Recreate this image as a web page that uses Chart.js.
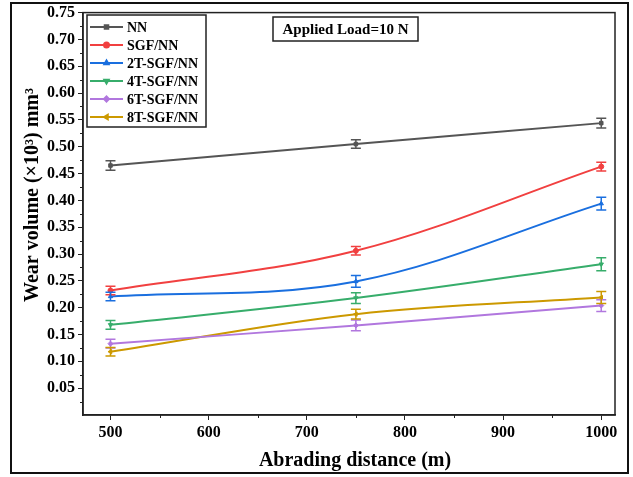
<!DOCTYPE html>
<html>
<head>
<meta charset="utf-8">
<script src="https://cdn.jsdelivr.net/npm/chart.js@4.4.1/dist/chart.umd.min.js"></script>
<style>
  body { margin: 0; background: #fff; }
  #wrap { width: 633px; height: 477px; }
</style>
</head>
<body>
<div id="wrap"><canvas id="chart" width="633" height="477"></canvas></div>
<script>
// Wear volume vs abrading distance
const distances = [500, 750, 1000];
const seriesNames = ['NN', 'SGF/NN', '2T-SGF/NN', '4T-SGF/NN', '6T-SGF/NN', '8T-SGF/NN'];
const nnValues = [0.465, 0.505, 0.544];
const sgfValues = [0.232, 0.306, 0.463];
const t2Values = [0.221, 0.249, 0.394];
const t4Values = [0.168, 0.218, 0.281];
const t6Values = [0.133, 0.167, 0.204];
const t8Values = [0.118, 0.188, 0.219];
const nnErr = [0.009, 0.008, 0.009];
const sgfErr = [0.008, 0.008, 0.008];
const t2Err = [0.008, 0.011, 0.012];
const t4Err = [0.008, 0.010, 0.012];
const t6Err = [0.008, 0.010, 0.011];
const t8Err = [0.008, 0.009, 0.011];
const xTicks = [500, 600, 700, 800, 900, 1000];
const yTicks = [0.05, 0.10, 0.15, 0.20, 0.25, 0.30, 0.35, 0.40, 0.45, 0.50, 0.55, 0.60, 0.65, 0.70, 0.75];

const colors = ['#555555', '#F14040', '#1A6FDF', '#37AD6B', '#B177DE', '#CC9900'];
const shapes = ['rect', 'circle', 'triangle', 'triangle', 'rectRot', 'triangle'];
const rotations = [0, 0, 0, 180, 0, 270];
const allValues = [nnValues, sgfValues, t2Values, t4Values, t6Values, t8Values];
const allErrors = [nnErr, sgfErr, t2Err, t4Err, t6Err, t8Err];

const FONT = '"Liberation Serif", "Times New Roman", serif';

// barres d'erreur, cadre, légende et textes
const extras = {
  id: 'extras',
  afterDatasetsDraw(chart) {
    const ctx = chart.ctx;
    const xs = chart.scales.x, ys = chart.scales.y;
    ctx.save();
    allValues.forEach((vals, i) => {
      ctx.strokeStyle = colors[i];
      ctx.lineWidth = 1.5;
      vals.forEach((v, j) => {
        const x = xs.getPixelForValue(distances[j]);
        const yt = ys.getPixelForValue(v + allErrors[i][j]);
        const yb = ys.getPixelForValue(v - allErrors[i][j]);
        ctx.beginPath();
        ctx.moveTo(x, yt); ctx.lineTo(x, yb);
        ctx.moveTo(x - 5, yt); ctx.lineTo(x + 5, yt);
        ctx.moveTo(x - 5, yb); ctx.lineTo(x + 5, yb);
        ctx.stroke();
      });
    });
    ctx.restore();
  },
  afterDraw(chart) {
    const ctx = chart.ctx;
    const a = chart.chartArea;
    const xs = chart.scales.x, ys = chart.scales.y;
    ctx.save();
    // cadre du graphe
    ctx.strokeStyle = '#222';
    ctx.lineWidth = 1.5;
    ctx.strokeRect(a.left, a.top, a.right - a.left, a.bottom - a.top);
    // petites graduations
    ctx.lineWidth = 1;
    ctx.beginPath();
    for (let v = 550; v < 1000; v += 100) {
      const x = Math.round(xs.getPixelForValue(v)) + 0.5;
      ctx.moveTo(x, a.bottom); ctx.lineTo(x, a.bottom + 3);
    }
    for (let k = 1; k < 30; k += 2) {
      const y = Math.round(ys.getPixelForValue(k * 0.025)) + 0.5;
      ctx.moveTo(a.left, y); ctx.lineTo(a.left - 3, y);
    }
    ctx.stroke();
    // cadre extérieur
    ctx.strokeStyle = '#111';
    ctx.lineWidth = 2;
    ctx.strokeRect(11, 3, 617, 470);

    // légende
    ctx.lineWidth = 1.5;
    ctx.strokeStyle = '#222';
    ctx.strokeRect(87, 15, 119, 112);
    ctx.font = 'bold 14px ' + FONT;
    ctx.textBaseline = 'middle';
    seriesNames.forEach((name, i) => {
      const y = 27 + i * 18;
      ctx.strokeStyle = colors[i];
      ctx.lineWidth = 2;
      ctx.beginPath();
      ctx.moveTo(90, y); ctx.lineTo(123, y);
      ctx.stroke();
      ctx.fillStyle = colors[i];
      Chart.helpers.drawPoint(ctx, { pointStyle: shapes[i], rotation: rotations[i], radius: 2.5, borderWidth: 1 }, 106.5, y);
      ctx.fillStyle = '#000';
      ctx.textAlign = 'left';
      ctx.fillText(name, 127, y + 1);
    });

    // annotation
    ctx.strokeStyle = '#222';
    ctx.lineWidth = 1.5;
    ctx.strokeRect(273, 17, 145, 24);
    ctx.font = 'bold 15px ' + FONT;
    ctx.fillStyle = '#000';
    ctx.textAlign = 'center';
    ctx.fillText('Applied Load=10 N', 345.5, 30);

    // titres des axes
    ctx.font = 'bold 20px ' + FONT;
    ctx.fillText('Abrading distance (m)', 355, 461);
    ctx.save();
    ctx.translate(33, 195);
    ctx.rotate(-Math.PI / 2);
    ctx.fillText('Wear volume (\u00d710\u00b3) mm\u00b3', 0, 0);
    ctx.restore();
    ctx.restore();
  }
};

const ctxChart = document.getElementById('chart');
new Chart(ctxChart, {
  type: 'line',
  data: {
    datasets: seriesNames.map((name, i) => ({
      label: name,
      data: allValues[i].map((v, j) => ({ x: distances[j], y: v })),
      borderColor: colors[i],
      backgroundColor: colors[i],
      borderWidth: 2,
      pointStyle: shapes[i],
      rotation: rotations[i],
      pointRadius: 2.5,
      pointBorderWidth: 1,
      tension: 0.35,
      fill: false
    }))
  },
  options: {
    responsive: false,
    animation: false,
    layout: { padding: { top: 12, right: 18, left: 0, bottom: 0 } },
    plugins: {
      legend: { display: false },
      tooltip: { enabled: false }
    },
    scales: {
      x: {
        type: 'linear',
        min: 472,
        max: 1014,
        afterBuildTicks: s => { s.ticks = xTicks.map(v => ({ value: v })); },
        afterFit: s => { s.height = 62; },
        border: { display: true, color: '#222', width: 1.5 },
        grid: { display: true, drawOnChartArea: false, drawTicks: true, tickLength: 5, color: '#222' },
        ticks: {
          color: '#000',
          padding: 3,
          maxRotation: 0,
          font: { family: FONT, size: 16, weight: 'bold' },
          callback: v => String(v)
        }
      },
      y: {
        min: 0,
        max: 0.75,
        afterBuildTicks: s => { s.ticks = yTicks.map(v => ({ value: v })); },
        afterFit: s => { s.width = 83; },
        border: { display: true, color: '#222', width: 1.5 },
        grid: { display: true, drawOnChartArea: false, drawTicks: true, tickLength: 5, color: '#222' },
        ticks: {
          color: '#000',
          padding: 3,
          font: { family: FONT, size: 16, weight: 'bold' },
          callback: v => v.toFixed(2)
        }
      }
    }
  },
  plugins: [extras]
});
</script>
</body>
</html>
